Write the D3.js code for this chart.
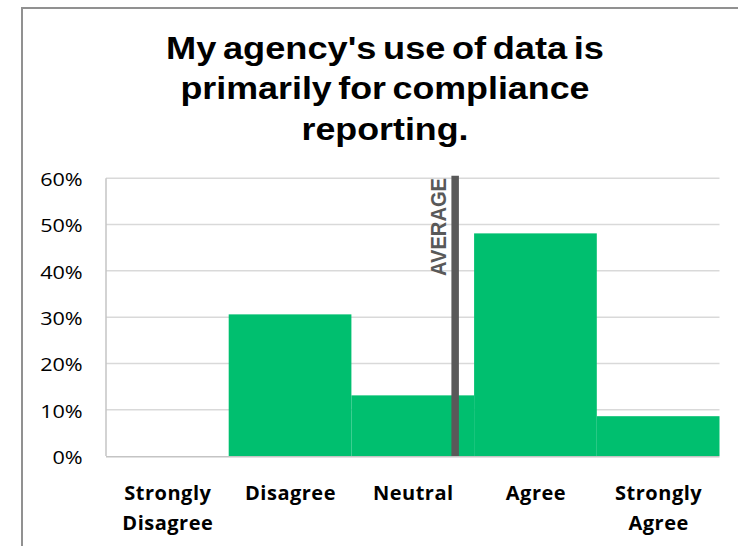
<!DOCTYPE html>
<html>
<head>
<meta charset="utf-8">
<script src="https://cdn.jsdelivr.net/npm/d3@7"></script>
<style>
  html, body { margin: 0; padding: 0; background: #ffffff; }
  svg { display: block; }
</style>
</head>
<body>
<script>
// Survey response distribution
const categories = ["Strongly Disagree", "Disagree", "Neutral", "Agree", "Strongly Agree"];
const labelLines = [["Strongly", "Disagree"], ["Disagree"], ["Neutral"], ["Agree"], ["Strongly", "Agree"]];
const shares = [0, 0.306, 0.131, 0.481, 0.086];
const scores = [1, 2, 3, 4, 5];
const yTicks = [0, 0.1, 0.2, 0.3, 0.4, 0.5, 0.6];
const titleLines = ["My agency's use of data is", "primarily for compliance", "reporting."];
const titleWidths = [438, 409, 167];

const W = 738, H = 546;
const plot = { left: 106, right: 719.5, top: 178.3, bottom: 456 };

const svg = d3.select("body").append("svg")
  .attr("width", W).attr("height", H);

svg.append("rect").attr("width", W).attr("height", H).attr("fill", "#ffffff");

// chart frame
svg.append("rect")
  .attr("x", 22).attr("y", 8)
  .attr("width", 900).attr("height", 700)
  .attr("fill", "none")
  .attr("stroke", "#919191")
  .attr("stroke-width", 2);

// title (glyphs fitted to the set line widths)
const title = svg.append("text")
  .attr("font-family", "'Liberation Sans', Arial, sans-serif")
  .attr("font-weight", "bold")
  .attr("font-size", 31)
  .attr("word-spacing", "-3px")
  .attr("fill", "#000")
  .attr("text-anchor", "middle");
titleLines.forEach((t, i) => {
  title.append("tspan")
    .attr("x", 385)
    .attr("y", 58.5 + i * 40.5)
    .attr("textLength", titleWidths[i])
    .attr("lengthAdjust", "spacingAndGlyphs")
    .text(t);
});

// scales
const x = d3.scaleBand().domain(categories).range([plot.left, plot.right]).padding(0);
const xScore = d3.scaleLinear().domain([0.5, 5.5]).range([plot.left, plot.right]);
const y = d3.scaleLinear().domain([0, 0.6]).range([plot.bottom, plot.top]);

// horizontal gridlines
svg.append("g")
  .selectAll("line")
  .data(yTicks.filter(d => d > 0))
  .join("line")
  .attr("x1", plot.left).attr("x2", plot.right)
  .attr("y1", d => y(d)).attr("y2", d => y(d))
  .attr("stroke", "#d9d9d9")
  .attr("stroke-width", 1.5);

// y axis labels
const yAxis = svg.append("g")
  .attr("transform", `translate(${plot.left},0)`)
  .call(d3.axisLeft(y).tickValues(yTicks).tickFormat(d3.format(".0%")).tickSize(0).tickPadding(23.3));
yAxis.select(".domain").remove();
yAxis.selectAll("text")
  .attr("font-family", "'Open Sans', sans-serif")
  .attr("font-size", 18)
  .attr("fill", "#000")
  .attr("dy", 7.3)
  .each(function () {
    const len = this.getComputedTextLength();
    d3.select(this)
      .attr("textLength", len * 1.2)
      .attr("lengthAdjust", "spacingAndGlyphs");
  });

// bars
const data = categories.map((c, i) => ({ c, v: shares[i] }));
svg.append("g")
  .selectAll("rect")
  .data(data)
  .join("rect")
  .attr("x", d => x(d.c))
  .attr("width", x.bandwidth())
  .attr("y", d => y(d.v))
  .attr("height", d => y(0) - y(d.v))
  .attr("fill", "#00bf6f");

// axis lines
svg.append("line")
  .attr("x1", plot.left).attr("x2", plot.left)
  .attr("y1", plot.top).attr("y2", plot.bottom)
  .attr("stroke", "#c4c4c4").attr("stroke-width", 1.5);
svg.append("line")
  .attr("x1", plot.left).attr("x2", plot.right)
  .attr("y1", plot.bottom + 0.75).attr("y2", plot.bottom + 0.75)
  .attr("stroke", "#c4c4c4").attr("stroke-width", 1.5);

// weighted average score marker
const avg = d3.sum(shares, (v, i) => v * scores[i]) / d3.sum(shares);
const ax = xScore(avg);
svg.append("line")
  .attr("x1", ax).attr("x2", ax)
  .attr("y1", plot.top - 2.5).attr("y2", plot.bottom)
  .attr("stroke", "#595959")
  .attr("stroke-width", 7.5);
svg.append("text")
  .attr("transform", `translate(${ax - 9.5},276) rotate(-90)`)
  .attr("font-family", "'Liberation Sans', Arial, sans-serif")
  .attr("font-weight", "bold")
  .attr("font-size", 22)
  .attr("fill", "#595959")
  .attr("textLength", 98)
  .attr("lengthAdjust", "spacingAndGlyphs")
  .text("AVERAGE");

// category labels
const xl = svg.append("g")
  .attr("font-family", "'Open Sans', sans-serif")
  .attr("font-weight", "bold")
  .attr("font-size", 20)
  .attr("letter-spacing", "0.5px")
  .attr("fill", "#000")
  .attr("text-anchor", "middle");
categories.forEach((c, i) => {
  const t = xl.append("text");
  labelLines[i].forEach((line, j) => {
    t.append("tspan")
      .attr("x", x(c) + x.bandwidth() / 2 + 0.5)
      .attr("y", 499.5 + j * 30.7)
      .text(line);
  });
});
</script>
</body>
</html>
